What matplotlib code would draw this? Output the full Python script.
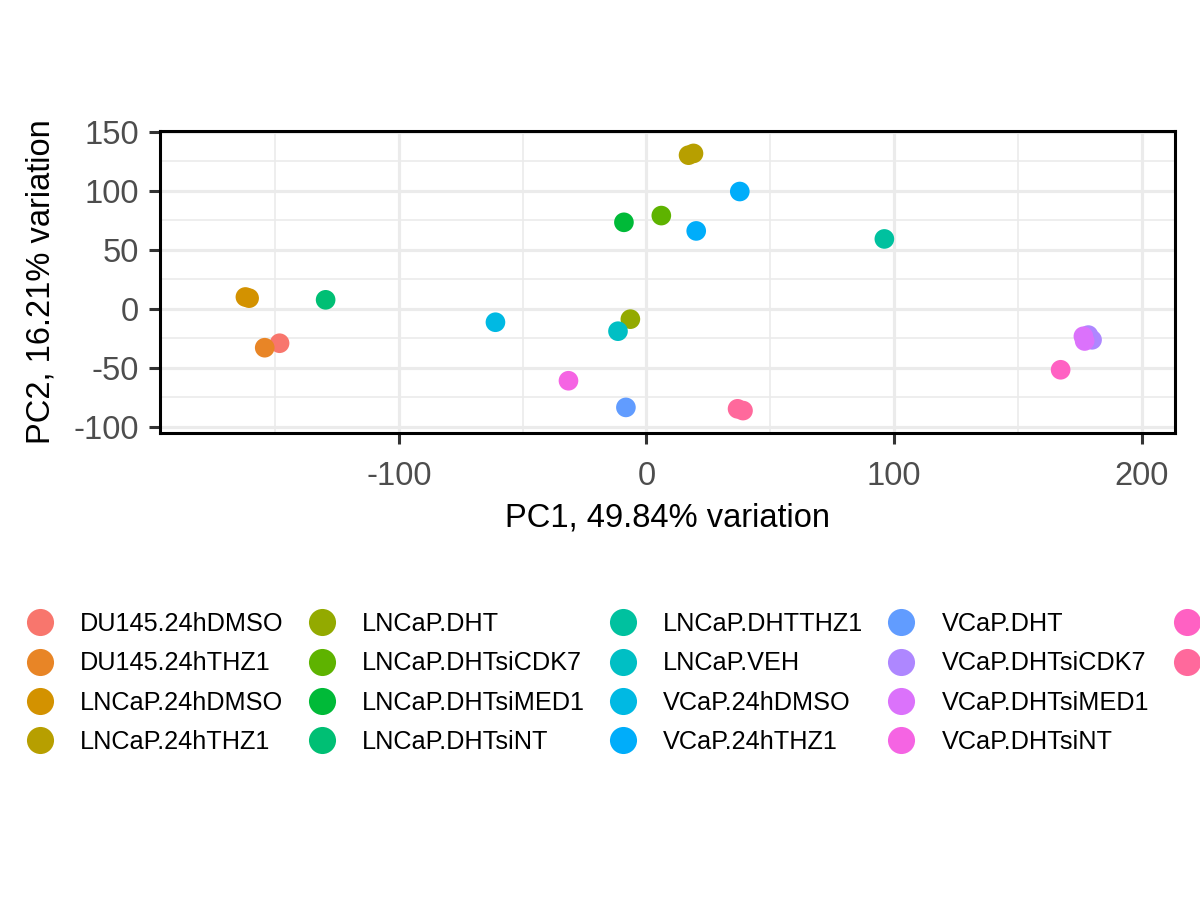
import matplotlib
matplotlib.use("Agg")
import matplotlib.pyplot as plt
from matplotlib.lines import Line2D
from matplotlib.ticker import MultipleLocator

plt.rcParams['font.family'] = ['Liberation Sans', 'DejaVu Sans']
plt.rcParams['axes.unicode_minus'] = False

# Categories (legend order)
groups = ["DU145.24hDMSO", "DU145.24hTHZ1", "LNCaP.24hDMSO", "LNCaP.24hTHZ1",
          "LNCaP.DHT", "LNCaP.DHTsiCDK7", "LNCaP.DHTsiMED1", "LNCaP.DHTsiNT",
          "LNCaP.DHTTHZ1", "LNCaP.VEH", "VCaP.24hDMSO", "VCaP.24hTHZ1",
          "VCaP.DHT", "VCaP.DHTsiCDK7", "VCaP.DHTsiMED1", "VCaP.DHTsiNT",
          "VCaP.DHTTHZ1", "VCaP.VEH"]

# Samples: group, PC1, PC2
sample_group = ["DU145.24hDMSO", "DU145.24hTHZ1",
                "LNCaP.24hDMSO", "LNCaP.24hDMSO",
                "LNCaP.24hTHZ1", "LNCaP.24hTHZ1",
                "LNCaP.DHT", "LNCaP.DHTsiCDK7", "LNCaP.DHTsiMED1", "LNCaP.DHTsiNT",
                "LNCaP.DHTTHZ1", "LNCaP.VEH", "VCaP.24hDMSO",
                "VCaP.24hTHZ1", "VCaP.24hTHZ1",
                "VCaP.DHT",
                "VCaP.DHTsiCDK7", "VCaP.DHTsiCDK7",
                "VCaP.DHTsiMED1", "VCaP.DHTsiMED1",
                "VCaP.DHTsiNT", "VCaP.DHTTHZ1",
                "VCaP.VEH", "VCaP.VEH"]
pc1 = [-148.2, -154.2,
       -162.0, -160.5,
       17.0, 19.0,
       -6.5, 6.0, -9.1, -129.6,
       96.1, -11.5, -61.0,
       37.7, 20.1,
       -8.3,
       178.5, 180.0,
       176.5, 177.0,
       -31.5, 167.3,
       36.8, 39.0]
pc2 = [-29.4, -33.2,
       9.8, 8.8,
       130.0, 131.5,
       -9.0, 78.8, 73.1, 7.4,
       59.0, -19.2, -11.6,
       99.2, 65.8,
       -83.8,
       -22.5, -26.5,
       -23.5, -27.5,
       -61.2, -51.9,
       -85.0, -86.5]

x_ticks = [-100, 0, 100, 200]
y_ticks = [-100, -50, 0, 50, 100, 150]

palette = ["#F8766D", "#E88526", "#D39200", "#B79F00", "#93AA00", "#5EB300",
           "#00BA38", "#00BF74", "#00C19F", "#00BFC4", "#00B9E3", "#00ADFA",
           "#619CFF", "#AE87FF", "#DB72FB", "#F564E3", "#FF61C3", "#FF699C"]
color_of = dict(zip(groups, palette))

fig = plt.figure(figsize=(12, 9), dpi=100)
ax = fig.add_axes([160/1200, 1-433/900, (1175-160)/1200, (433-131)/900])

for g in groups:
    xs = [x for x, sg in zip(pc1, sample_group) if sg == g]
    ys = [y for y, sg in zip(pc2, sample_group) if sg == g]
    ax.scatter(xs, ys, s=200, color=color_of[g], edgecolors='none', zorder=3)

ax.set_xlim(-196.5, 213.5)
ax.set_ylim(-105.5, 150.5)
ax.set_xticks(x_ticks)
ax.set_yticks(y_ticks)
ax.xaxis.set_minor_locator(MultipleLocator(50))
ax.yaxis.set_minor_locator(MultipleLocator(25))
ax.grid(True, which='major', color='#EBEBEB', linewidth=2.3, zorder=0)
ax.grid(True, which='minor', color='#EBEBEB', linewidth=1.2, zorder=0)
ax.set_axisbelow(True)
for sp in ax.spines.values():
    sp.set_color('black')
    sp.set_linewidth(2.2)
ax.tick_params(which='major', length=8, width=2.2, color='#333333',
               labelsize=23.5, labelcolor='#4D4D4D', pad=7)
ax.tick_params(axis='x', which='major', pad=12)
ax.tick_params(which='minor', length=0)
ax.set_xlabel("PC1, 49.84% variation", fontsize=23.5, color='black', labelpad=8)
ax.set_ylabel("PC2, 16.21% variation", fontsize=23.5, color='black', labelpad=12)

handles = [Line2D([], [], marker='o', linestyle='none', markersize=19.5,
                  markerfacecolor=color_of[g], markeredgecolor='none') for g in groups]
labels = list(groups)
# pad so that the legend fills 4 rows x 5 columns like the reference
for _ in range(2):
    handles.append(Line2D([], [], linestyle='none', marker=None))
    labels.append("")
fig.legend(handles, labels, loc='upper left', bbox_to_anchor=(27/1200, 1-612/900),
           ncol=5, frameon=False, fontsize=18.2, handlelength=1.0,
           handletextpad=1.1, columnspacing=1.0, labelspacing=0.61,
           borderpad=0, borderaxespad=0)

fig.savefig("out.png", dpi=100)
